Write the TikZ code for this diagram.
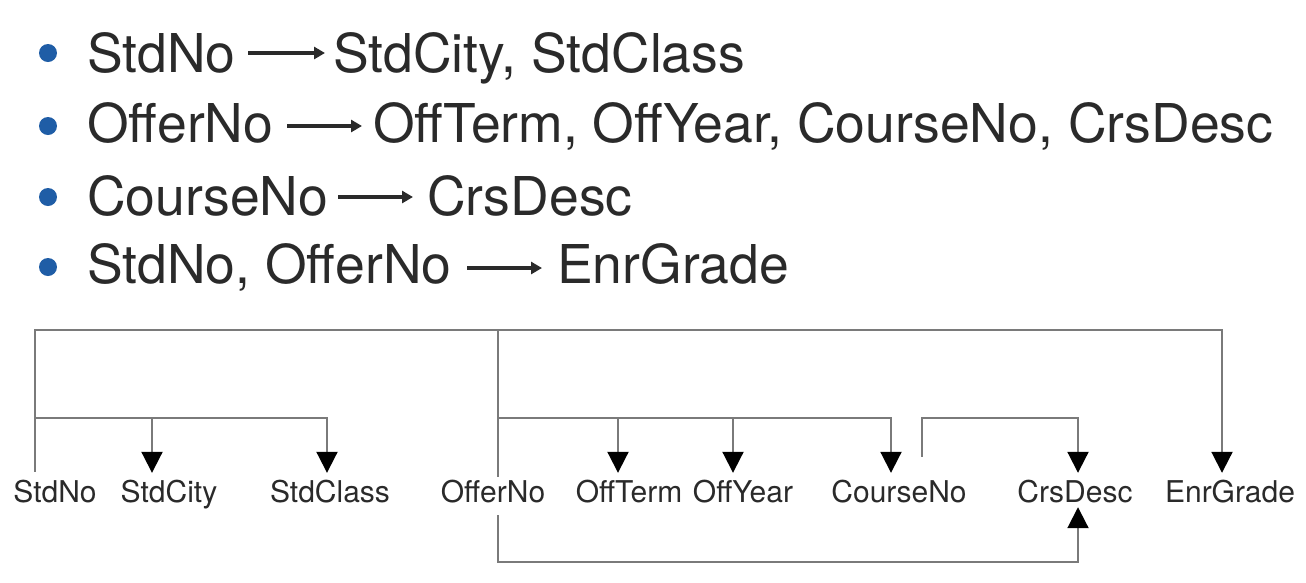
\documentclass[tikz,border=0pt]{standalone}
\usepackage{fontspec}
\setmainfont{TeX Gyre Heros}
\usetikzlibrary{arrows.meta}
\definecolor{txt}{HTML}{2A2A2A}
\definecolor{lngray}{HTML}{7A7A7A}
\definecolor{bulletblue}{HTML}{1F5DA6}
\begin{document}
\begin{tikzpicture}[x=1pt,y=-1pt,
  big/.style={font=\fontsize{53.5}{60}\selectfont, inner sep=0pt, text=txt, anchor=base west},
  lbl/.style={font=\fontsize{30}{34}\selectfont, inner sep=0pt, text=txt, anchor=base, text height=21pt, text depth=0pt},
  fdarrow/.style={draw=txt, line width=3.2pt, -{Triangle[length=11pt,width=12pt]}},
  ln/.style={draw=lngray, line width=2pt},
  dep/.style={ln, -{Triangle[length=21pt,width=21pt,black]}},
  bul/.style={fill=bulletblue}
]
\useasboundingbox (0,0) rectangle (1306,582);
\fill[white] (0,0) rectangle (1306,582);

% bullets
\fill[bul] (48,53) circle (9pt);
\fill[bul] (48,126) circle (9pt);
\fill[bul] (48,197) circle (9pt);
\fill[bul] (48,267) circle (9pt);

% top lines
\node[big] (l1) at (87,72) {StdNo};
\node[big] (r1) at (333,72) {StdCity, StdClass};
\node[big] (l2) at (87,142) {OfferNo};
\node[big] (r2) at (373,142) {OffTerm, OffYear, CourseNo, CrsDesc};
\node[big] (l3) at (87,215) {CourseNo};
\node[big] (r3) at (427,215) {CrsDesc};
\node[big] (l4) at (87,283) {StdNo, OfferNo};
\node[big] (r4) at (557,283) {EnrGrade};

\draw[fdarrow] ([xshift=-85pt,yshift=19pt]r1.base west) -- ([xshift=-8pt,yshift=19pt]r1.base west);
\draw[fdarrow] ([xshift=-86pt,yshift=16pt]r2.base west) -- ([xshift=-11pt,yshift=16pt]r2.base west);
\draw[fdarrow] ([xshift=-89pt,yshift=18pt]r3.base west) -- ([xshift=-14pt,yshift=18pt]r3.base west);
\draw[fdarrow] ([xshift=-90pt,yshift=15pt]r4.base west) -- ([xshift=-15pt,yshift=15pt]r4.base west);

% bottom labels
\node[lbl] (StdNo) at (55,502) {StdNo};
\node[lbl] (StdCity) at (169,502) {StdCity};
\node[lbl] (StdClass) at (330,502) {StdClass};
\node[lbl] (OfferNo) at (493,502) {OfferNo};
\node[lbl] (OffTerm) at (629,502) {OffTerm};
\node[lbl] (OffYear) at (743,502) {OffYear};
\node[lbl] (CourseNo) at (899,502) {CourseNo};
\node[lbl] (CrsDesc) at (1075,502) {CrsDesc};
\node[lbl] (EnrGrade) at (1230,502) {EnrGrade};

% dependency lines
\draw[dep, shorten <=9pt, shorten >=8pt] (35,0 |- StdNo.north) -- (35,330) -- (1222,330) -- (1222,0 |- EnrGrade.north);
\draw[dep, shorten >=8pt] (35,418) -- (327,418) -- (327,0 |- StdClass.north);
\draw[dep, shorten >=8pt] (152,418) -- (152,0 |- StdCity.north);

\draw[ln, shorten <=4pt] (498,0 |- OfferNo.north) -- (498,330);
\draw[dep, shorten >=8pt] (498,418) -- (891,418) -- (891,0 |- CourseNo.north);
\draw[dep, shorten >=8pt] (618,418) -- (618,0 |- OffTerm.north);
\draw[dep, shorten >=8pt] (733,418) -- (733,0 |- OffYear.north);
\draw[dep, shorten <=13pt, shorten >=5pt] (498,0 |- OfferNo.south) -- (498,562) -- (1078,562) -- (1078,0 |- CrsDesc.south);
\draw[dep, shorten <=24pt, shorten >=8pt] (922,0 |- CourseNo.north) -- (922,418) -- (1078,418) -- (1078,0 |- CrsDesc.north);
\end{tikzpicture}
\end{document}
